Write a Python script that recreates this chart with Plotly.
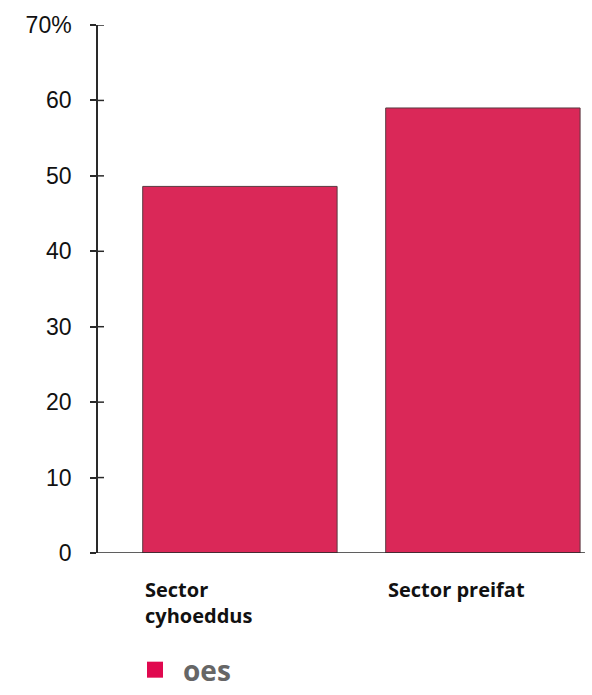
import plotly.graph_objects as go

# Share of respondents answering "oes" by sector
categories = ["Sector cyhoeddus", "Sector preifat"]
category_labels = ["Sector<br>cyhoeddus", "Sector preifat"]
values = [48.6, 59.0]
tick_values = [0, 10, 20, 30, 40, 50, 60, 70]
tick_labels = ["0", "10", "20", "30", "40", "50", "60", "70%"]
series_name = "oes"

bar_color = "#da2858"
ink = "#2a2a2a"

fig = go.Figure()

fig.add_trace(go.Bar(
    x=[0, 1],
    y=values,
    width=0.8,
    marker=dict(color=bar_color, line=dict(color="#5a3a40", width=1)),
    showlegend=False,
    hoverinfo="skip",
))

# Legend entry drawn as a square marker
fig.add_trace(go.Scatter(
    x=[None], y=[None],
    mode="markers",
    marker=dict(symbol="square", size=18, color="#e0094f"),
    name="<b>" + series_name + "</b>",
    showlegend=True,
))

# Inner half of the tick marks, so each tick crosses the axis line
for v in tick_values[1:]:
    fig.add_shape(type="line", xref="paper", yref="y",
                  x0=0, x1=6 / 494, y0=v, y1=v,
                  line=dict(color=ink, width=1.5), layer="above")

# Category labels, left-aligned under each bar
for i, lab in enumerate(category_labels):
    fig.add_annotation(
        x=i - 0.4, y=-0.040, xref="x", yref="paper",
        text="<b>" + lab + "</b>",
        showarrow=False, xanchor="left", yanchor="top", align="left",
        font=dict(family="Open Sans", size=20, color="#111111"),
    )

fig.update_layout(
    width=592, height=695,
    margin=dict(l=98, r=0, t=25, b=142, autoexpand=False),
    paper_bgcolor="white",
    plot_bgcolor="white",
    bargap=0.2,
    xaxis=dict(
        range=[-0.584, 1.449],
        showticklabels=False,
        showgrid=False, zeroline=False,
        showline=False,
        ticks="",
    ),
    yaxis=dict(
        range=[0, 70],
        tickvals=tick_values,
        ticktext=tick_labels,
        showgrid=False, zeroline=False,
        showline=True, linecolor=ink, linewidth=1.5,
        ticks="outside", ticklen=6, tickwidth=1.5, tickcolor=ink,
        ticklabelstandoff=14,
        tickfont=dict(family="Liberation Sans", size=23, color="#111111"),
    ),
    legend=dict(
        x=0.0587, y=-0.2689, xanchor="left", yanchor="bottom",
        orientation="h",
        font=dict(family="Open Sans", size=28, color="#666666"),
        itemwidth=46,
        borderwidth=0,
        bgcolor="rgba(0,0,0,0)",
    ),
)

# Baseline along the bottom of the plot
fig.add_shape(type="line", xref="x", yref="y",
              x0=-0.584, x1=1.42, y0=0, y1=0,
              line=dict(color=ink, width=1.5))

fig.write_html("out.html")
